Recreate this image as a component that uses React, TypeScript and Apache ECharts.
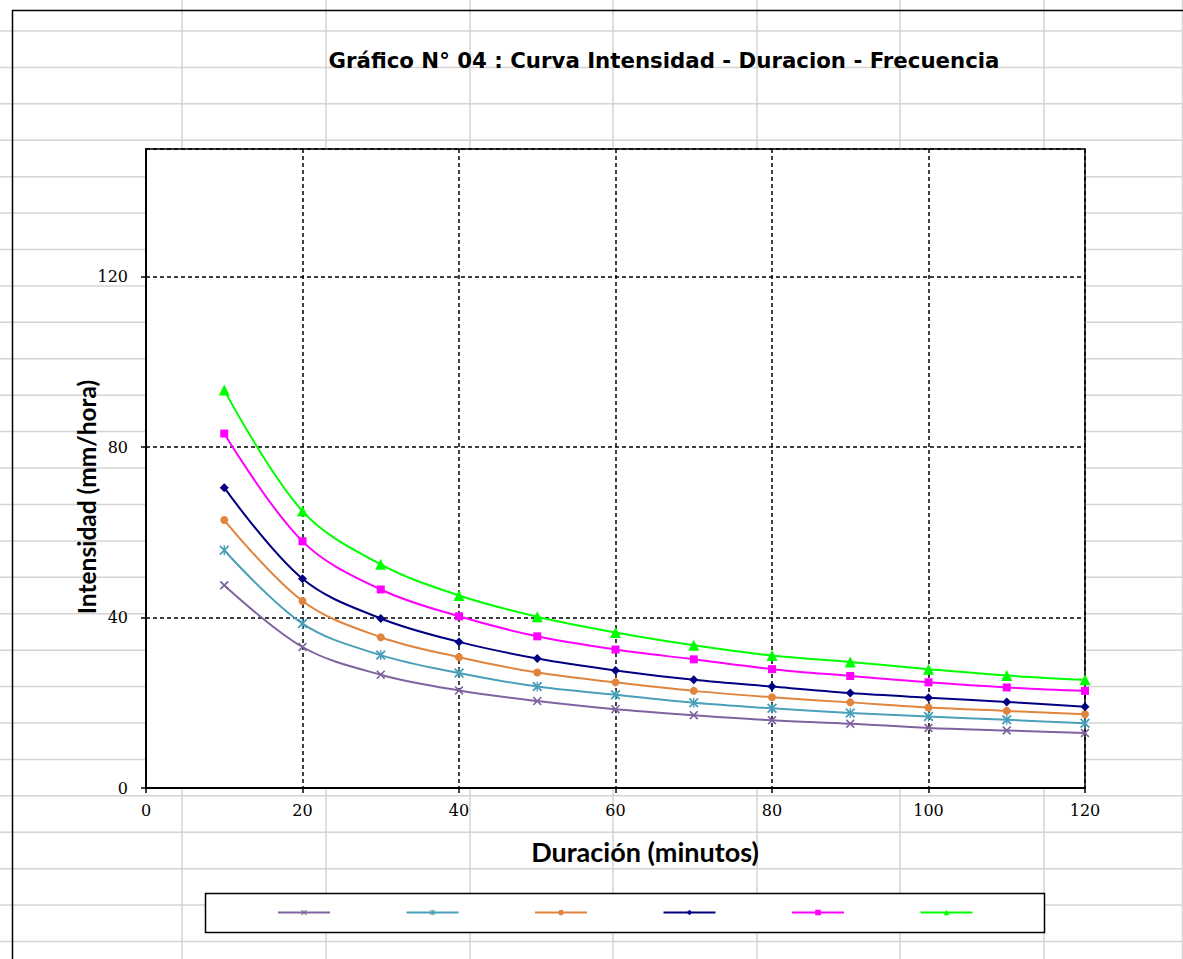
import React, { useEffect, useRef } from "react";
import * as echarts from "echarts";

// ---- data ----
const durations = [10, 20, 30, 40, 50, 60, 70, 80, 90, 100, 110, 120];
const curvePurple = [47.6, 33.1, 26.6, 22.9, 20.4, 18.5, 17.1, 15.9, 15.1, 14.1, 13.5, 12.9];
const curveTeal = [55.8, 38.6, 31.2, 27.0, 23.8, 21.9, 20.0, 18.7, 17.6, 16.8, 16.0, 15.2];
const curveOrange = [62.9, 43.9, 35.4, 30.7, 27.1, 24.8, 22.8, 21.3, 20.1, 18.9, 18.1, 17.3];
const curveNavy = [70.5, 49.1, 39.8, 34.3, 30.4, 27.6, 25.4, 23.8, 22.3, 21.2, 20.2, 19.1];
const curveMagenta = [83.2, 57.9, 46.6, 40.3, 35.6, 32.5, 30.2, 27.9, 26.3, 24.8, 23.6, 22.8];
const curveGreen = [93.4, 65.0, 52.5, 45.2, 40.2, 36.5, 33.5, 31.1, 29.6, 27.9, 26.4, 25.4];

const titleText = "Gráfico N° 04 : Curva Intensidad - Duracion - Frecuencia";
const xTitle = "Duración (minutos)";
const yTitle = "Intensidad (mm/hora)";

// ---- styling / layout constants ----
const X_MARK = "path://M0,1.3L1.3,0L5,3.7L8.7,0L10,1.3L6.3,5L10,8.7L8.7,10L5,6.3L1.3,10L0,8.7L3.7,5Z";
const STAR_MARK =
  "path://M0,1.3L1.3,0L5,3.7L8.7,0L10,1.3L6.3,5L10,8.7L8.7,10L5,6.3L1.3,10L0,8.7L3.7,5Z M4.35,0L5.65,0L5.65,10L4.35,10Z";

const seriesDefs = [
  { name: "s1", data: curvePurple, color: "#7f63a0", symbol: X_MARK, size: 9 },
  { name: "s2", data: curveTeal, color: "#4a9fbb", symbol: STAR_MARK, size: 10 },
  { name: "s3", data: curveOrange, color: "#e0843e", symbol: "circle", size: 8 },
  { name: "s4", data: curveNavy, color: "#000080", symbol: "diamond", size: 9 },
  { name: "s5", data: curveMagenta, color: "#ff00ff", symbol: "rect", size: 8 },
  { name: "s6", data: curveGreen, color: "#00ff00", symbol: "triangle", size: 11 },
];

const sheetRowsStart = 31;
const sheetRowStep = 36.42;
const sheetCols = [182, 326, 470, 613, 757, 900, 1044, 1182.5];

export default function App() {
  const ref = useRef<HTMLDivElement>(null);

  useEffect(() => {
    if (!ref.current) return;
    const chart = echarts.init(ref.current, null, { renderer: "svg" });

    const graphics: any[] = [];
    for (let k = 0; k <= 25; k++) {
      const y = sheetRowsStart + sheetRowStep * k;
      graphics.push({
        type: "line",
        z: -10,
        silent: true,
        shape: { x1: 0, y1: y, x2: 1183, y2: y },
        style: { stroke: "#d4d4d4", lineWidth: 1.5 },
      });
    }
    sheetCols.forEach((x) => {
      graphics.push({
        type: "line",
        z: -10,
        silent: true,
        shape: { x1: x, y1: 0, x2: x, y2: 959 },
        style: { stroke: "#d4d4d4", lineWidth: 1.5 },
      });
    });
    // chart area border
    graphics.push({
      type: "rect",
      z: -5,
      silent: true,
      shape: { x: 12.5, y: 10.5, width: 1400, height: 1200 },
      style: { fill: "none", stroke: "#000", lineWidth: 1.5 },
    });
    // legend box
    graphics.push({
      type: "rect",
      z: 1,
      silent: true,
      shape: { x: 205.5, y: 893.5, width: 839, height: 39 },
      style: { fill: "#fff", stroke: "#000", lineWidth: 1.5 },
    });
    // axis titles
    graphics.push({
      type: "text",
      z: 5,
      x: 645,
      y: 851,
      style: {
        text: xTitle,
        fontFamily: "Lato",
        fontWeight: "bold",
        fontSize: 27,
        fill: "#000",
        align: "center",
        verticalAlign: "middle",
      },
    });
    graphics.push({
      type: "text",
      z: 5,
      x: 86,
      y: 497,
      rotation: Math.PI / 2,
      style: {
        text: yTitle,
        fontFamily: "Lato",
        fontWeight: "bold",
        fontSize: 24.5,
        fill: "#000",
        align: "center",
        verticalAlign: "middle",
      },
    });

    const option: any = {
      animation: false,
      backgroundColor: "transparent",
      title: {
        text: titleText,
        left: 659,
        top: 45,
        textAlign: "center",
        textStyle: {
          fontFamily: "DejaVu Sans",
          fontWeight: "bold",
          fontSize: 21.3,
          color: "#000",
        },
      },
      graphic: graphics,
      grid: {
        left: 146,
        top: 149,
        width: 939,
        height: 639,
        show: true,
        backgroundColor: "#fff",
        borderColor: "#000",
        borderWidth: 1.5,
      },
      legend: {
        left: 277,
        top: 909,
        padding: 0,
        itemWidth: 52,
        itemHeight: 7,
        itemGap: 74.5,
        formatter: () => "",
        textStyle: { fontSize: 8 },
        data: seriesDefs.map((s) => s.name),
        z: 6,
      },
      xAxis: {
        type: "value",
        min: 0,
        max: 120,
        interval: 20,
        axisLine: { show: true, onZero: false, lineStyle: { color: "#000", width: 2 } },
        axisTick: { show: true, length: 5, lineStyle: { color: "#000", width: 1.5 } },
        axisLabel: {
          margin: 14,
          color: "#000",
          fontFamily: "DejaVu Serif",
          fontSize: 16,
        },
        splitLine: {
          show: true,
          lineStyle: { color: "#000", width: 1.5, type: [4, 3] },
        },
      },
      yAxis: {
        type: "value",
        min: 0,
        max: 150,
        interval: 40,
        axisLine: { show: true, onZero: false, lineStyle: { color: "#000", width: 2 } },
        axisTick: { show: true, length: 5, lineStyle: { color: "#000", width: 1.5 } },
        axisLabel: {
          margin: 18,
          color: "#000",
          fontFamily: "DejaVu Serif",
          fontSize: 16,
          showMaxLabel: false,
        },
        splitLine: {
          show: true,
          lineStyle: { color: "#000", width: 1.5, type: [4, 3] },
        },
      },
      series: seriesDefs.map((s) => ({
        name: s.name,
        type: "line",
        smooth: 0.35,
        data: durations.map((d, i) => [d, s.data[i]]),
        symbol: s.symbol,
        symbolSize: s.size,
        showAllSymbol: true,
        color: s.color,
        lineStyle: { color: s.color, width: 2 },
        itemStyle: { color: s.color, borderColor: s.color, borderWidth: 0 },
        z: 3,
      })),
    };

    chart.setOption(option);
    return () => chart.dispose();
  }, []);

  return (
    <div
      ref={ref}
      style={{ position: "fixed", left: 0, top: 0, width: 1183, height: 959, background: "#fff" }}
    />
  );
}
